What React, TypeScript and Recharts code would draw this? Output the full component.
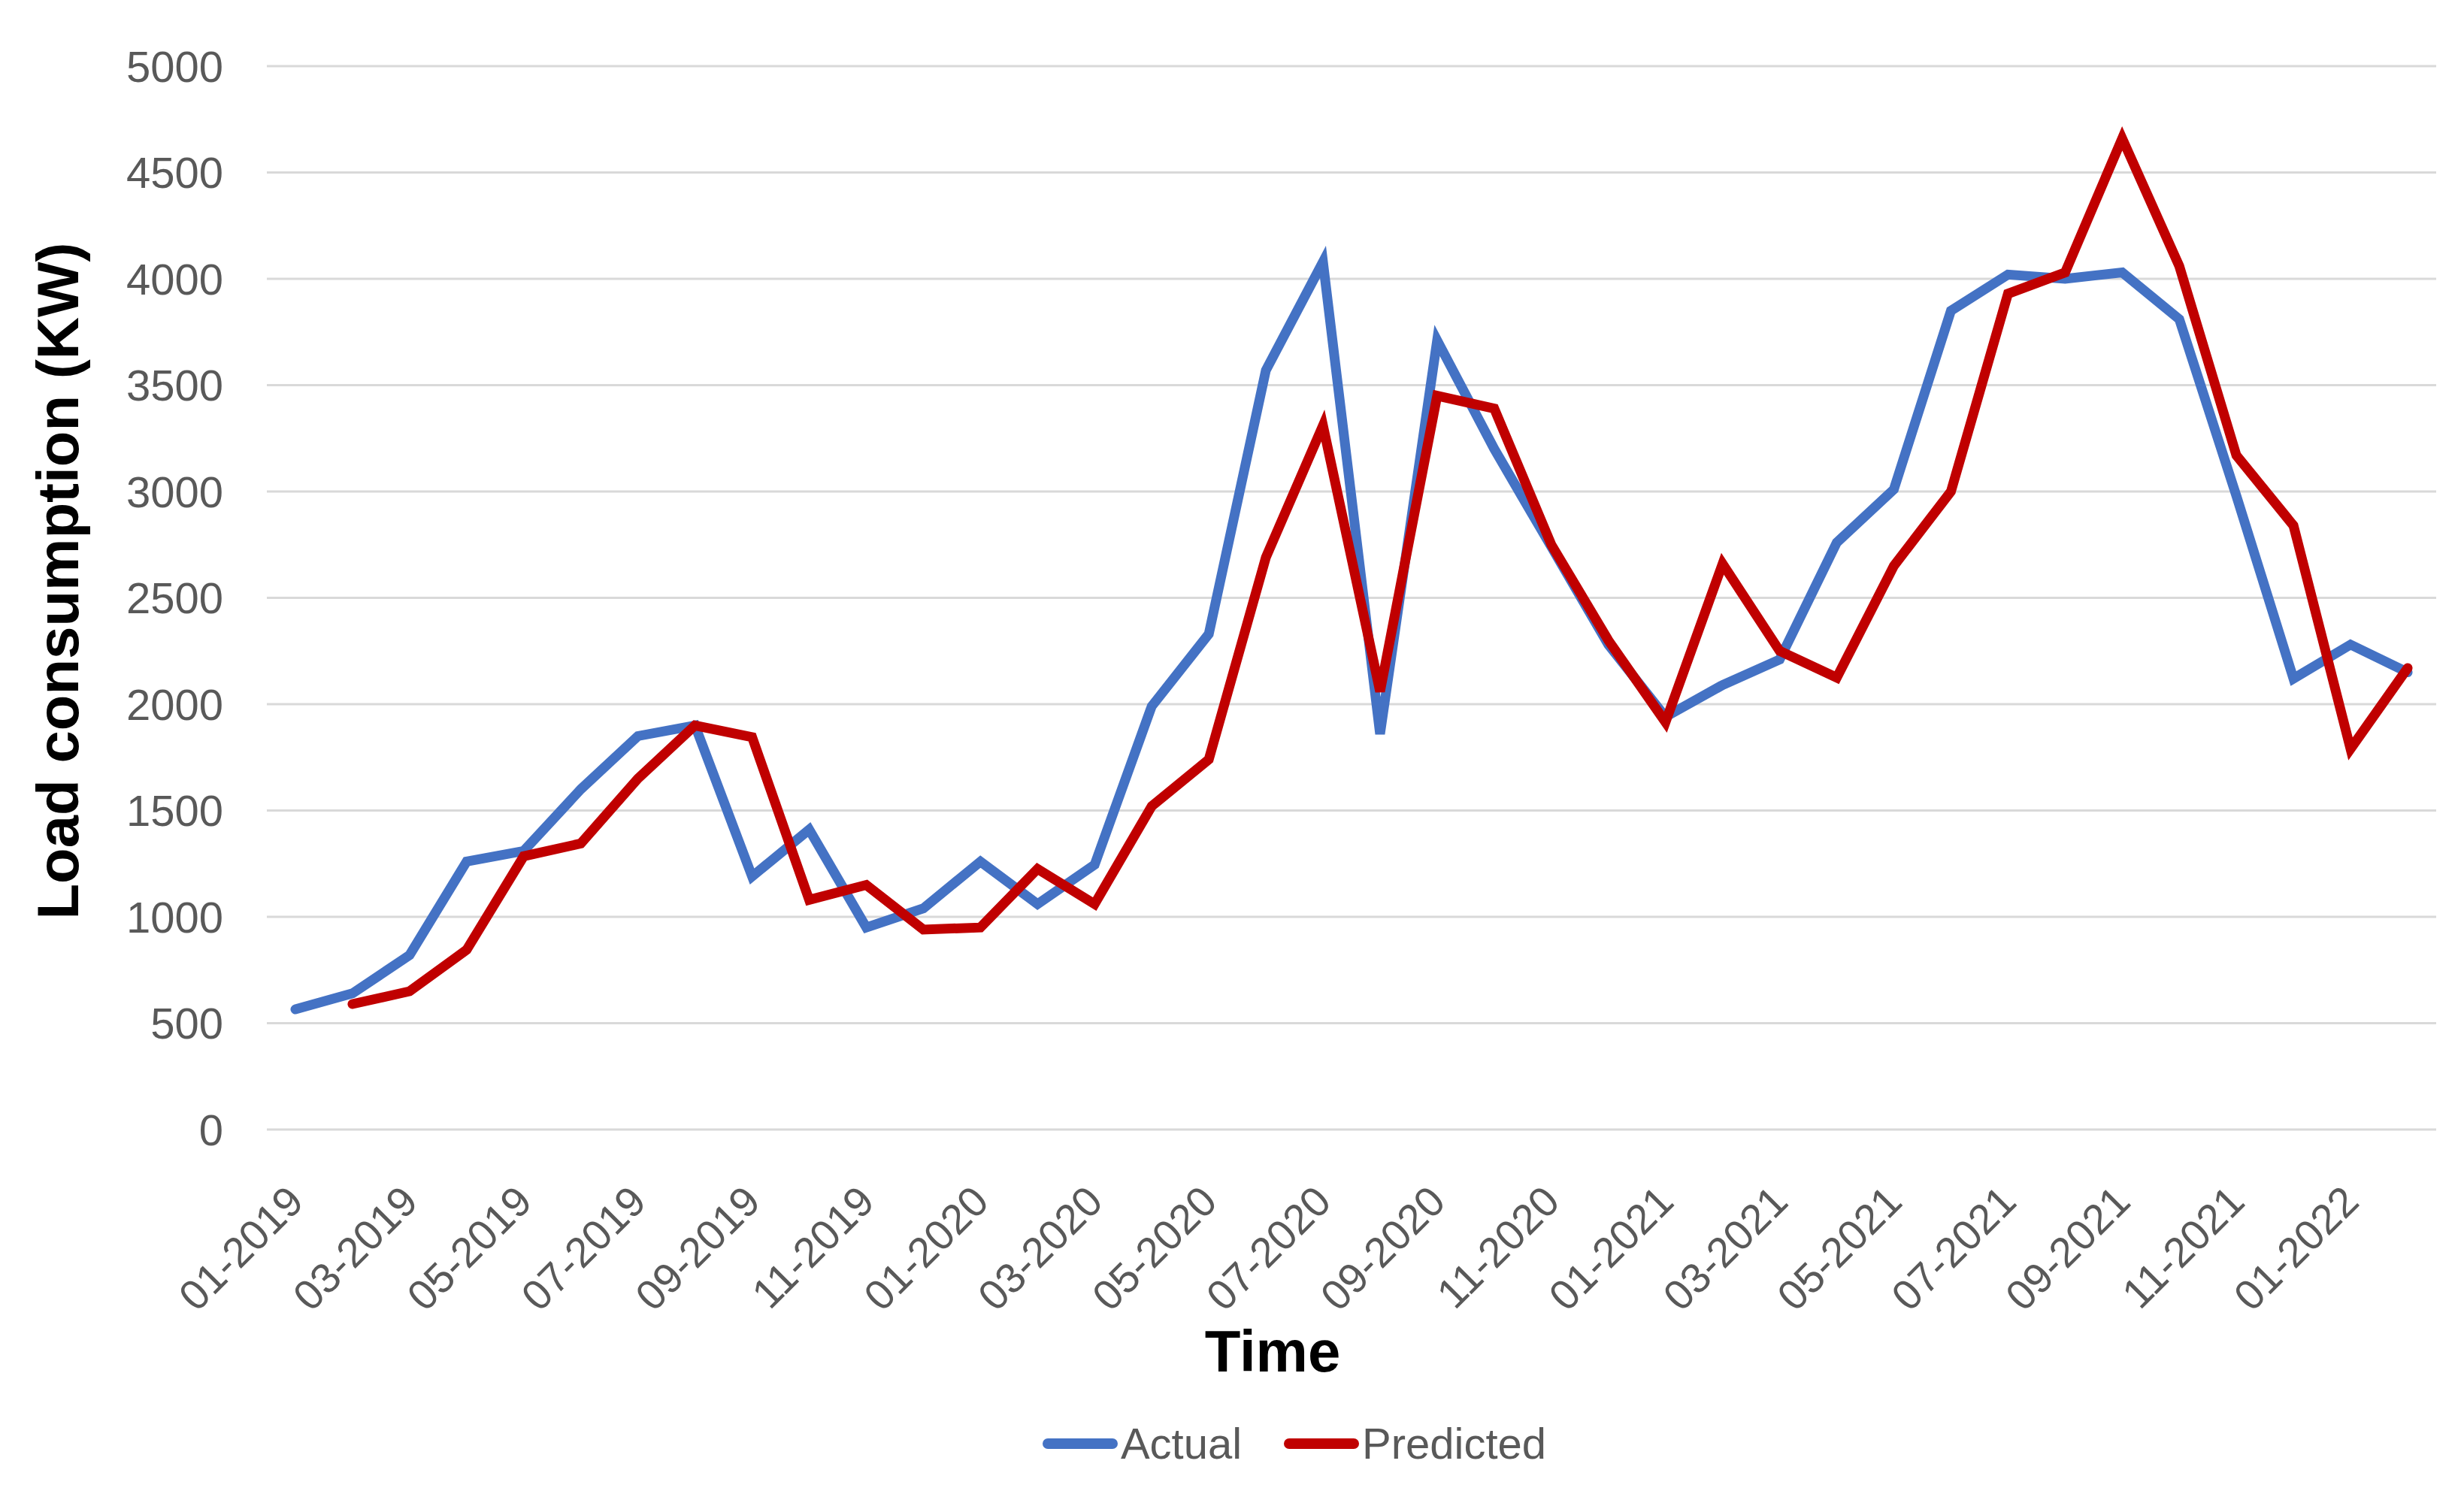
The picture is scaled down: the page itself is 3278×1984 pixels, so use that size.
import React from 'react';
import { LineChart, Line, XAxis, YAxis, CartesianGrid, Legend, Label } from 'recharts';

const months = [
  '01-2019', '02-2019', '03-2019', '04-2019', '05-2019', '06-2019', '07-2019', '08-2019', '09-2019', '10-2019', '11-2019', '12-2019',
  '01-2020', '02-2020', '03-2020', '04-2020', '05-2020', '06-2020', '07-2020', '08-2020', '09-2020', '10-2020', '11-2020', '12-2020',
  '01-2021', '02-2021', '03-2021', '04-2021', '05-2021', '06-2021', '07-2021', '08-2021', '09-2021', '10-2021', '11-2021', '12-2021',
  '01-2022', '02-2022',
];

const actual = [
  565, 640, 820, 1260, 1310, 1600, 1850, 1900, 1190, 1410, 950, 1040,
  1260, 1060, 1245, 1990, 2330, 3570, 4080, 1860, 3710, 3200, 2740, 2280,
  1940, 2090, 2210, 2760, 3010, 3850, 4020, 4000, 4030, 3810, 2980, 2120,
  2280, 2150,
];

const predicted = [
  null, 590, 650, 845, 1285, 1345, 1650, 1900, 1845, 1080, 1150, 940,
  950, 1225, 1060, 1520, 1740, 2690, 3310, 2060, 3450, 3390, 2750, 2300,
  1915, 2660, 2250, 2125, 2650, 3000, 3930, 4030, 4660, 4060, 3170, 2840,
  1790, 2170,
];

const yTicks = [0, 500, 1000, 1500, 2000, 2500, 3000, 3500, 4000, 4500, 5000];

const seriesNames = ['Actual', 'Predicted'];
const seriesColors = ['#4472C4', '#C00000'];

const data = months.map((m, i) => ({ month: m, actual: actual[i], predicted: predicted[i] }));

const FONT = '"Liberation Sans", Arial, sans-serif';
const TICK_COLOR = '#595959';

const XTick = (props: any) => {
  const { x, y, payload } = props;
  return (
    <g transform={`translate(${x},${y})`}>
      <text
        textAnchor="end"
        transform="rotate(-45)"
        fontSize={56}
        fill={TICK_COLOR}
        fontFamily={FONT}
        dy="0.35em"
      >
        {payload.value}
      </text>
    </g>
  );
};

const LegendContent = () => (
  <div style={{ display: 'flex', justifyContent: 'center', alignItems: 'center', fontFamily: FONT, fontSize: 58, color: TICK_COLOR, lineHeight: 1 }}>
    {seriesNames.map((n, i) => (
      <div key={n} style={{ display: 'flex', alignItems: 'center', marginRight: i === 0 ? 56 : 0 }}>
        <div style={{ width: 100, height: 14, borderRadius: 7, background: seriesColors[i], marginRight: 4 }} />
        <span>{n}</span>
      </div>
    ))}
  </div>
);

export default function App() {
  return (
    <div style={{ width: 3262, height: 1968 }}>
      <LineChart width={3262} height={1968} data={data} margin={{ top: 80, right: 29, bottom: 0, left: 0 }}>
        <CartesianGrid vertical={false} stroke="#D9D9D9" strokeWidth={3} />
        <XAxis
          dataKey="month"
          interval={1}
          tickLine={false}
          axisLine={false}
          height={473}
          padding={{ left: 38, right: 38 }}
          tick={<XTick />}
          tickSize={0}
          tickMargin={85}
        >
          <Label
            content={() => (
              <text x={1685} y={1790} textAnchor="middle" dominantBaseline="central" fontFamily={FONT} fontWeight="bold" fontSize={78} fill="#000">
                Time
              </text>
            )}
          />
        </XAxis>
        <YAxis
          domain={[0, 5000]}
          ticks={yTicks}
          width={347}
          tickLine={false}
          axisLine={false}
          tickSize={0}
          tickMargin={58}
          tick={{ fontSize: 58, fill: TICK_COLOR, fontFamily: FONT }}
        >
          <Label
            content={() => (
              <text x={69} y={765} textAnchor="middle" dominantBaseline="central" transform="rotate(-90, 69, 765)" fontFamily={FONT} fontWeight="bold" fontSize={78} fill="#000">
                Load consumption (KW)
              </text>
            )}
          />
        </YAxis>
        <Legend
          layout="horizontal"
          verticalAlign="middle"
          align="center"
          wrapperStyle={{ top: 1884, left: 1064, width: 1300 }}
          content={<LegendContent />}
        />
        <Line type="linear" dataKey="actual" name="Actual" stroke={seriesColors[0]} strokeWidth={13} dot={false} strokeLinecap="round" isAnimationActive={false} />
        <Line type="linear" dataKey="predicted" name="Predicted" stroke={seriesColors[1]} strokeWidth={13} dot={false} strokeLinecap="round" isAnimationActive={false} />
      </LineChart>
    </div>
  );
}
